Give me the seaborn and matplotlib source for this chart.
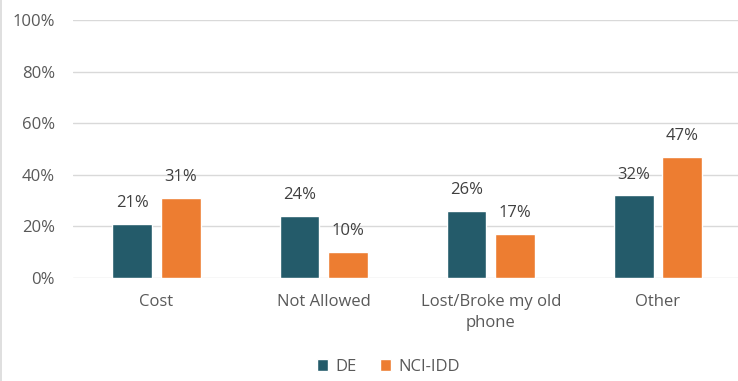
import matplotlib
matplotlib.use("Agg")
import matplotlib.pyplot as plt
from matplotlib.lines import Line2D
import seaborn as sns
import pandas as pd

categories = ["Cost", "Not Allowed", "Lost/Broke my old\nphone", "Other"]
series_names = ["DE", "NCI-IDD"]
de_values = [21, 24, 26, 32]
nci_values = [31, 10, 17, 47]
y_ticks = [0, 20, 40, 60, 80, 100]

colors = {"DE": "#245B6A", "NCI-IDD": "#ED7D31"}

df = pd.DataFrame({
    "category": categories * 2,
    "series": ["DE"] * 4 + ["NCI-IDD"] * 4,
    "value": de_values + nci_values,
})

sns.set_theme(style="white")
plt.rcParams["font.family"] = ["Open Sans", "DejaVu Sans"]
text_color = "#595959"
fs = 12

fig = plt.figure(figsize=(7.38, 3.81), dpi=100)
fig.add_artist(Line2D([0.0015, 0.0015], [0, 1], transform=fig.transFigure,
                      color="#D9D9D9", linewidth=1.2))
ax = fig.add_axes([0.0988, 0.271, 0.906, 0.6765])

sns.barplot(data=df, x="category", y="value", hue="series", order=categories,
            hue_order=series_names, palette=colors, width=0.58, gap=0.18,
            saturation=1, ax=ax, legend=True)

ax.set_xlim(-0.5, 3.5)
ax.set_ylim(0, 100)
ax.set_yticks(y_ticks)
ax.set_yticklabels([f"{t}%" for t in y_ticks], fontsize=fs, color=text_color)
ax.yaxis.grid(True, color="#D9D9D9", linewidth=1)
ax.set_axisbelow(True)
for s in ax.spines.values():
    s.set_visible(False)
ax.tick_params(axis="y", length=0, pad=13)
ax.tick_params(axis="x", length=0, pad=12)
for lbl in ax.get_xticklabels():
    lbl.set_fontsize(fs)
    lbl.set_color(text_color)
    lbl.set_linespacing(1.35)
ax.set_xlabel("")
ax.set_ylabel("")

for cont in ax.containers:
    ax.bar_label(cont, labels=[f"{int(v)}%" for v in cont.datavalues],
                 padding=9, fontsize=fs, color="#404040")

leg = ax.legend(loc="center", ncol=2, frameon=False, fontsize=fs,
                handlelength=0.7, handleheight=0.7,
                columnspacing=1.4, handletextpad=0.4)
leg.set_bbox_to_anchor((0.526, 0.037), transform=fig.transFigure)
for t in leg.get_texts():
    t.set_color(text_color)

fig.savefig("out.png", dpi=100)
